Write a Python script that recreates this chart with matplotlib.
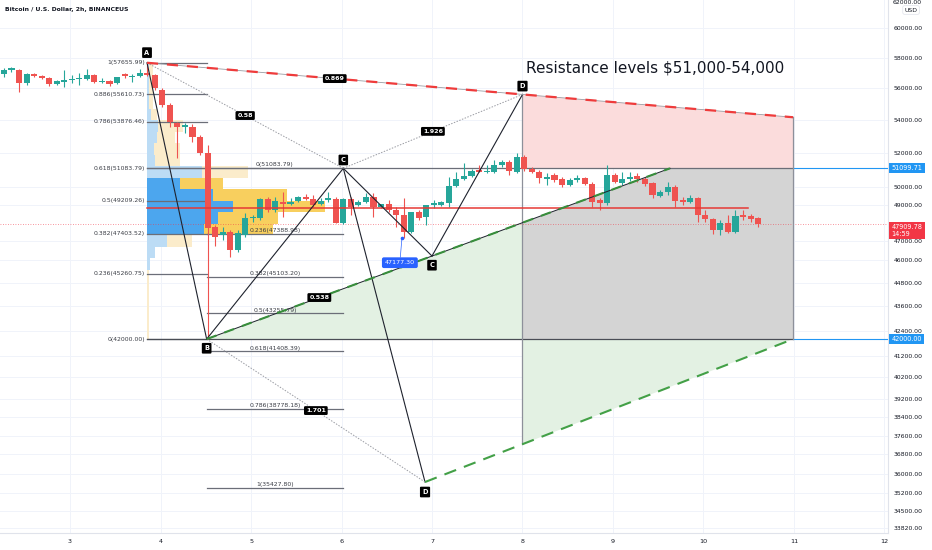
import numpy as np
import matplotlib
matplotlib.use("Agg")
import matplotlib.pyplot as plt

# ---------------- data ----------------
candle_open = [56917, 57179, 57179, 56333, 56917, 56787, 56657, 56268, 56398, 56527,
               56592, 56592, 56852, 56398, 56462, 56333, 56917, 56721, 56787, 56983,
               56852, 55883, 54930, 53808, 53560, 53560, 52950, 51987, 47759, 47323,
               47486, 46516, 47323, 48254, 48254, 49317, 48699, 49148, 49034, 49204,
               49430, 49317, 49034, 49260, 49317, 47978, 49317, 48978, 49148, 49430,
               48866, 49034, 48699, 48420, 47486, 48587, 48310, 48978, 48978, 49091,
               50058, 50461, 50635, 50984, 50867, 50867, 51277, 51454, 50867, 51750,
               51043, 50867, 50461, 50693, 50461, 50115, 50403, 50519, 50173, 49260,
               49091, 50693, 50231, 50461, 50635, 50461, 50231, 49486, 49714, 50001,
               49260, 49148, 49373, 48420, 48199, 47595, 47978, 47486, 48420, 48365,
               48254]
candle_high = [57310, 57377, 57245, 56983, 56983, 56852, 56721, 56527, 57179, 56852,
               56983, 57245, 56917, 56657, 56527, 56721, 56983, 56917, 57245, 57656,
               56917, 56012, 55056, 53870, 53808, 53746, 53072, 52467, 47869, 47759,
               47595, 47595, 48531, 48420, 49373, 49430, 49430, 49714, 49373, 49486,
               49600, 49543, 49373, 49714, 49430, 49373, 49430, 49260, 49657, 49657,
               48978, 49260, 48866, 49373, 48587, 48699, 48978, 49260, 49204, 50577,
               50867, 51395, 51043, 51277, 51277, 51572, 51572, 51572, 51988, 51869,
               51160, 50984, 50809, 50809, 50577, 50519, 50693, 50577, 50288, 49373,
               51277, 50809, 50867, 50867, 50809, 50577, 50288, 49828, 50288, 50115,
               49430, 49543, 49430, 48699, 48254, 48144, 48420, 48699, 48699, 48475,
               48310]
candle_low = [56721, 57048, 55755, 56204, 56721, 56592, 56140, 56204, 56076, 56333,
              56204, 56527, 56333, 56333, 56140, 56268, 56657, 56398, 56721, 56787,
              55883, 54804, 53560, 51690, 53194, 52648, 51869, 42000, 46730, 47052,
              46144, 46410, 47215, 48034, 48144, 48587, 48587, 48310, 48978, 49148,
              49260, 48866, 48978, 49148, 47978, 47924, 48420, 48922, 49091, 48310,
              48810, 48587, 47759, 47177, 47432, 48144, 47869, 48810, 48922, 48866,
              50001, 50403, 50577, 50867, 50809, 50809, 51160, 50693, 50809, 50925,
              50809, 50231, 50115, 50288, 50001, 50058, 50288, 50115, 48866, 48699,
              48978, 50231, 50115, 50346, 50288, 50058, 49373, 49430, 49543, 48866,
              48978, 49091, 48034, 48034, 47378, 47323, 47432, 47432, 48144, 48034,
              47759]
candle_close = [57179, 57310, 56333, 56917, 56787, 56657, 56268, 56462, 56527, 56592,
                56657, 56852, 56398, 56462, 56268, 56721, 56787, 56787, 56983, 56852,
                56012, 54930, 53870, 53560, 53684, 52950, 51987, 47705, 47215, 47486,
                46516, 47432, 48254, 48310, 49317, 48699, 49204, 49034, 49148, 49430,
                49317, 48978, 49204, 49373, 47978, 49317, 48866, 49148, 49430, 48866,
                49034, 48699, 48420, 47486, 48587, 48254, 48978, 49091, 49148, 50058,
                50461, 50635, 50925, 50867, 50925, 51277, 51454, 50925, 51750, 51043,
                50867, 50519, 50577, 50403, 50115, 50403, 50519, 50173, 49148, 49091,
                50693, 50288, 50461, 50577, 50461, 50173, 49543, 49714, 50001, 49204,
                49148, 49373, 48420, 48199, 47595, 47978, 47486, 48365, 48310, 48199,
                47910]
candle_start_day = 2.27
candle_step_day = 1.0 / 12

day_ticks = [3, 4, 5, 6, 7, 8, 9, 10, 11, 12]
price_ticks = [60000, 58000, 56000, 54000, 52000, 50000, 49000, 47000, 46000, 44800,
               43600, 42400, 41200, 40200, 39200, 38400, 37600, 36800, 36000, 35200,
               34500, 33820]
top_price_label = 62000

# harmonic pattern points (day, price)
pt_A = (3.851, 57655.99)
pt_B = (4.51, 42000.00)
pt_C = (6.02, 51083.79)
pt_D = (8.0, 55600.0)
pt_C2 = (7.0, 46196.0)
pt_D2 = (6.923, 35651.0)
green_end = (9.63, 51083.79)
low_green_end = (10.99, 42000.00)
box_left_day = 8.0
box_right_day = 10.99

ratio_labels = ["0.869", "0.58", "1.926", "0.538", "1.701"]

left_fib_ratios = ["1", "0.886", "0.786", "0.618", "0.5", "0.382", "0.236", "0"]
left_fib_prices = [57655.99, 55610.73, 53876.46, 51083.79, 49209.26, 47403.52, 45260.75, 42000.00]
ext_fib_ratios = ["0", "0.236", "0.382", "0.5", "0.618", "0.786", "1"]
ext_fib_prices = [51083.79, 47388.98, 45103.20, 43255.79, 41408.39, 38778.18, 35427.80]

# volume profile rows (top -> bottom), arbitrary volume units
vp_up = [2, 2, 2, 2, 4, 11, 10, 7, 8, 55, 33, 66, 86, 71, 57, 20, 8, 3, 0, 0, 0, 0, 0, 0]
vp_down = [4, 4, 4, 4, 6, 25, 18, 26, 25, 46, 43, 74, 92, 60, 69, 25, 0, 0, 2, 2, 2, 2, 2, 2]
poc_price = 48800.0
poc_end_day = 10.49

last_price = 47909.78
last_time = "14:59"
hline_price = 51099.71
support_price = 42000.00
low_marker_price = 47177.30
low_marker_day = 6.668

title = "Bitcoin / U.S. Dollar, 2h, BINANCEUS"
note = "Resistance levels $51,000-54,000"

# ---------------- styles ----------------
GREEN = "#26a69a"
RED = "#ef5350"
TXT = "#131722"
FS = 4.4

fig = plt.figure(figsize=(9.32, 5.5), dpi=100)
ax = fig.add_axes([0, 1 - 533 / 550, 888 / 932, 533 / 550])
ax.set_yscale("log")
ax.set_xlim(2.2265, 12.0387)
ax.set_ylim(33627, 61958)


def logline(p, q, x):
    """price on the straight (log) line through p and q at day x"""
    t = (x - p[0]) / (q[0] - p[0])
    return np.exp(np.log(p[1]) + t * (np.log(q[1]) - np.log(p[1])))


def mid(p, q):
    return ((p[0] + q[0]) / 2, np.sqrt(p[1] * q[1]))


# grid
for d in day_ticks:
    ax.axvline(d, color="#f0f3fa", lw=0.7, zorder=0)
for p in price_ticks:
    ax.axhline(p, color="#f0f3fa", lw=0.7, zorder=0)

# shaded regions
red_top_right = (box_right_day, logline(pt_A, pt_D, box_right_day))
ax.fill([pt_D[0], red_top_right[0], box_right_day, box_left_day],
        [pt_D[1], red_top_right[1], left_fib_prices[3], left_fib_prices[3]],
        color="#fbdcdc", lw=0, zorder=1)
g_at_box = logline(pt_B, green_end, box_left_day)
ax.fill([box_left_day, green_end[0], box_right_day, box_right_day, box_left_day],
        [g_at_box, green_end[1], green_end[1], support_price, support_price],
        color="#d4d4d4", lw=0, zorder=1)
ax.fill([pt_B[0], box_left_day, box_left_day],
        [pt_B[1], g_at_box, support_price], color="#e3f1e3", lw=0, zorder=1)
lg_at_box = logline(pt_D2, low_green_end, box_left_day)
ax.fill([box_left_day, box_left_day, low_green_end[0]],
        [support_price, lg_at_box, low_green_end[1]], color="#e3f1e3", lw=0, zorder=1)

# volume profile
edges = np.geomspace(left_fib_prices[-1], left_fib_prices[0], len(vp_up) + 1)[::-1]
vp_left = pt_A[0]
scale = 1 / 90.5
va_rows = range(10, 15)
for i in range(len(vp_up)):
    top, bot = edges[i], edges[i + 1]
    in_va = i in va_rows
    cu = "#4ca6ee" if in_va else "#bcdcf5"
    cd = "#f8cf5e" if in_va else "#fbeccb"
    wu = vp_up[i] * scale
    wd = vp_down[i] * scale
    if wu > 0:
        ax.barh(bot, wu, height=top - bot, left=vp_left, align="edge", color=cu,
                lw=0, zorder=2)
    if wd > 0:
        ax.barh(bot, wd, height=top - bot, left=vp_left + wu, align="edge", color=cd,
                lw=0, zorder=2)
ax.plot([vp_left, poc_end_day], [poc_price, poc_price], color="#e53935", lw=1.1, zorder=7)

# current price dotted line
ax.axhline(last_price, color="#f23645", lw=0.6, ls=(0, (1, 2)), alpha=0.7, zorder=3)

# candles
o = np.array(candle_open, float)
h = np.array(candle_high, float)
l = np.array(candle_low, float)
c = np.array(candle_close, float)
days = candle_start_day + np.arange(len(o)) * candle_step_day
cols = np.where(c >= o, GREEN, RED)
ax.vlines(days, l, h, colors=cols, lw=0.8, zorder=5)
bot = np.minimum(o, c)
top = np.maximum(np.maximum(o, c), bot * 1.0012)
ax.bar(days, top - bot, bottom=bot, width=0.067, color=cols, lw=0, zorder=6)

# fib levels (left retracement)
for r, p in zip(left_fib_ratios, left_fib_prices):
    ax.plot([pt_A[0], pt_B[0]], [p, p], color="#6b6e78", lw=0.9, zorder=4)
    ax.annotate(f"{r}({p:.2f})", (pt_A[0], p), xytext=(-1.5, 0), textcoords="offset points",
                ha="right", va="center", fontsize=FS, color="#3a3d45", zorder=8)
# fib extension
ext_mid = (pt_B[0] + pt_C[0]) / 2
for r, p in zip(ext_fib_ratios, ext_fib_prices):
    ax.plot([pt_B[0], pt_C[0]], [p, p], color="#6b6e78", lw=0.9, zorder=4)
    ax.annotate(f"{r}({p:.2f})", (ext_mid, p), xytext=(0, 0.6), textcoords="offset points",
                ha="center", va="bottom", fontsize=FS, color="#3a3d45", zorder=8)

# long horizontal levels
ax.plot([pt_A[0], box_right_day], [left_fib_prices[3]] * 2, color="#6b6e78", lw=0.9, zorder=4)
ax.plot([pt_A[0], box_right_day], [support_price] * 2, color="#4a4d55", lw=0.9, zorder=4)
ax.plot([box_right_day, 12.0387], [hline_price] * 2, color="#2196f3", lw=0.8, zorder=4)
ax.plot([box_right_day, 12.0387], [support_price] * 2, color="#2196f3", lw=0.8, zorder=4)

# box edges
ax.plot([box_left_day, box_left_day], [pt_D[1], lg_at_box], color="#8d909a", lw=0.9, zorder=4)
ax.plot([box_right_day, box_right_day], [red_top_right[1], support_price], color="#8d909a",
        lw=0.9, zorder=4)

# pattern lines
solid = [(pt_A, pt_B), (pt_B, pt_C), (pt_C, pt_D2), (pt_C, pt_C2), (pt_C2, pt_D)]
for p, q in solid:
    ax.plot([p[0], q[0]], [p[1], q[1]], color="#1e222d", lw=0.8, zorder=8)
dotted = [(pt_A, pt_C), (pt_C, pt_D), (pt_B, pt_D2)]
for p, q in dotted:
    ax.plot([p[0], q[0]], [p[1], q[1]], color="#9a9ca3", lw=0.7, ls=(0, (1.5, 1.5)), zorder=8)

# red dashed top line
ax.plot([pt_A[0], red_top_right[0]], [pt_A[1], red_top_right[1]], color="#9a9ca3", lw=0.6, zorder=8)
ax.plot([pt_A[0], red_top_right[0]], [pt_A[1], red_top_right[1]], color="#ef3b3b", lw=1.6,
        ls=(0, (5, 4)), zorder=9)
# green lines
ax.plot([pt_B[0], green_end[0]], [pt_B[1], green_end[1]], color="#1e222d", lw=0.7, zorder=8)
ax.plot([pt_B[0], green_end[0]], [pt_B[1], green_end[1]], color="#388e3c", lw=1.5,
        ls=(0, (5, 4)), zorder=9)
ax.plot([pt_D2[0], low_green_end[0]], [pt_D2[1], low_green_end[1]], color="#43a047", lw=1.5,
        ls=(0, (6, 4)), zorder=9)

# ratio labels
ratio_segs = [(pt_A, pt_D), (pt_A, pt_C), (pt_C, pt_D), (pt_B, pt_C2), (pt_B, pt_D2)]
for txt, (p, q) in zip(ratio_labels, ratio_segs):
    mx, my = mid(p, q)
    ax.text(mx, my, txt, ha="center", va="center", fontsize=4.6, color="white",
            fontweight="bold", zorder=12,
            bbox=dict(boxstyle="round,pad=0.3,rounding_size=0.2", fc="black", ec="none"))

# point labels
pt_labels = [("A", pt_A, 7.3), ("B", pt_B, -6.6), ("C", pt_C, 6.0), ("D", pt_D, 6.0),
             ("C", pt_C2, -6.6), ("D", pt_D2, -7.2)]
for txt, p, dy in pt_labels:
    ax.annotate(txt, p, xytext=(0, dy), textcoords="offset points", ha="center", va="center",
                fontsize=4.8, color="white", fontweight="bold", zorder=12,
                bbox=dict(boxstyle="round,pad=0.35,rounding_size=0.15", fc="black", ec="none"))

# low price marker
ax.plot([low_marker_day], [low_marker_price], "o", ms=1.6, color="#2962ff", zorder=11)
ax.annotate(f"{low_marker_price:.2f}", (low_marker_day, low_marker_price), xytext=(-1.5, -18),
            textcoords="offset points", ha="center", va="center", fontsize=4.6, color="white",
            zorder=12,
            arrowprops=dict(arrowstyle="-", color="#2962ff", lw=0.5, shrinkA=0, shrinkB=0),
            bbox=dict(boxstyle="round,pad=0.45,rounding_size=0.3", fc="#2962ff", ec="none"))

# note text
ax.text(8.039, 57311, note, ha="left", va="center", fontsize=11, color="#131722", zorder=12)

# axes styling
ax.yaxis.tick_right()
ax.set_yticks(price_ticks)
ax.set_yticklabels([f"{p:.2f}" for p in price_ticks])
ax.yaxis.set_minor_locator(matplotlib.ticker.NullLocator())
ax.set_xticks(day_ticks)
ax.set_xticklabels([str(d) for d in day_ticks])
ax.tick_params(axis="y", length=0, pad=3.8, labelsize=FS, labelcolor=TXT)
ax.tick_params(axis="x", length=0, pad=4.2, labelsize=FS + 0.2, labelcolor=TXT)
for s in ["top", "left"]:
    ax.spines[s].set_visible(False)
for s in ["right", "bottom"]:
    ax.spines[s].set_color("#e0e3eb")
    ax.spines[s].set_linewidth(0.8)

ytr = ax.get_yaxis_transform()
ax.text(1.005, 1 - 2.5 / 533, f"{top_price_label:.2f}", transform=ax.transAxes, ha="left",
        va="center", fontsize=FS, color=TXT)
ax.text(1.026, 1 - 10 / 533, "USD", transform=ax.transAxes, ha="center", va="center",
        fontsize=FS, color=TXT,
        bbox=dict(boxstyle="round,pad=0.3", fc="white", ec="#e0e3eb", lw=0.5))
for p, fc in [(hline_price, "#2196f3"), (support_price, "#2196f3")]:
    ax.text(1.004, p, f"{p:.2f}", transform=ytr, ha="left", va="center", fontsize=FS + 0.3,
            color="white", zorder=12,
            bbox=dict(boxstyle="square,pad=0.35", fc=fc, ec="none"))
ax.text(1.004, last_price, f"{last_price:.2f}\n{last_time}", transform=ytr, ha="left", va="top",
        fontsize=FS + 0.3, color="white", zorder=12, linespacing=1.1,
        bbox=dict(boxstyle="square,pad=0.35", fc="#f23645", ec="none"))

fig.text(5 / 932, 1 - 9 / 550, title, ha="left", va="center", fontsize=4.4, fontweight="bold",
         color=TXT)

fig.savefig("out.png", dpi=100, facecolor="white")
